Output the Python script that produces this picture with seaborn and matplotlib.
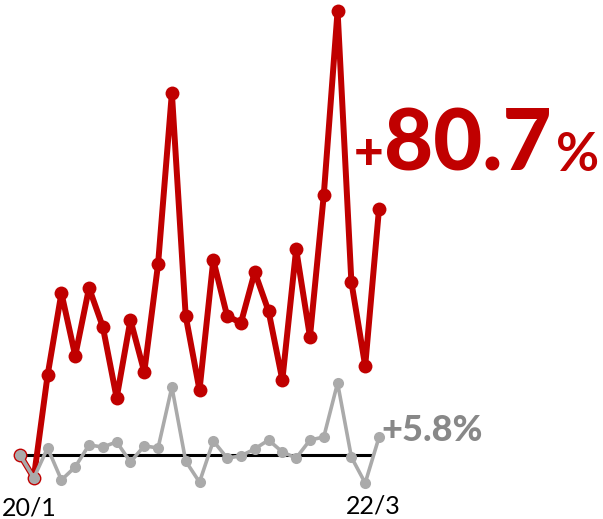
import matplotlib
matplotlib.use("Agg")
import matplotlib.pyplot as plt
import seaborn as sns
import numpy as np
import pandas as pd

# Cumulative change (%) versus the first period
region_change = [0, -7.5, 26.2, 53.1, 32.5, 54.8, 42.0, 18.7, 44.3, 27.2,
                 62.6, 118.7, 45.6, 21.3, 63.9, 45.6, 43.3, 60.0, 47.2, 24.6,
                 67.5, 38.7, 85.2, 145.6, 56.7, 29.2, 80.7]
national_change = [0, -7.5, 2.3, -8.2, -3.9, 3.3, 2.6, 4.3, -2.3, 3.0,
                   2.3, 22.3, -2.0, -8.9, 4.6, -1.0, -0.3, 2.0, 4.9, 1.0,
                   -1.0, 4.9, 5.9, 23.6, -0.7, -9.2, 5.8]
start_label = "20/1"
end_label = "22/3"

RED = "#c00000"
GRAY = "#aaaaaa"
LABEL_GRAY = "#888888"

sns.set_theme(style="white")
plt.rcParams["font.family"] = ["Lato", "DejaVu Sans"]

df = pd.DataFrame({
    "period": np.arange(len(region_change)),
    "region": region_change,
    "national": national_change,
})

fig = plt.figure(figsize=(6.03, 5.19), dpi=100)
ax = fig.add_axes([0, 0, 1, 1])

# zero reference line
ax.hlines(0, df["period"].iloc[0], df["period"].iloc[-1] - 0.4,
          color="black", lw=2.2, zorder=1)

sns.lineplot(data=df, x="period", y="region", ax=ax, color=RED, lw=4.3,
             marker="o", markersize=10, markeredgewidth=0, zorder=2)
sns.lineplot(data=df, x="period", y="national", ax=ax, color=GRAY, lw=2.6,
             marker="o", markersize=8, markeredgewidth=0, zorder=3)

px_per_period = (379 - 20) / 26
px_per_unit = 3.05
ax.set_xlim(-20 / px_per_period, (603 - 20) / px_per_period)
ax.set_ylim((455 - 519) / px_per_unit, 455 / px_per_unit)
ax.axis("off")

last = df["period"].iloc[-1]

# headline change for the region
ax.annotate("+", xy=(last, region_change[-1]), xytext=(-25, 40),
            textcoords="offset pixels", ha="left", va="baseline",
            fontsize=37, fontweight="black", color=RED)
ax.annotate(f"{region_change[-1]:.1f}", xy=(last, region_change[-1]),
            xytext=(5, 38), textcoords="offset pixels", ha="left",
            va="baseline", fontsize=61, fontweight="black", color=RED)
ax.annotate("%", xy=(last, region_change[-1]), xytext=(177, 38),
            textcoords="offset pixels", ha="left", va="baseline",
            fontsize=38, fontweight="bold", color=RED)

# national change
ax.annotate(f"+{national_change[-1]:.1f}%", xy=(last, national_change[-1]),
            xytext=(2, -4), textcoords="offset pixels", ha="left",
            va="baseline", fontsize=26, fontweight="black", color=LABEL_GRAY)

# period labels
ax.annotate(start_label, xy=(0, 0), xytext=(9, -61),
            textcoords="offset pixels", ha="center", va="baseline",
            fontsize=18, color="black")
ax.annotate(end_label, xy=(last, 0), xytext=(-5.5, -58),
            textcoords="offset pixels", ha="center", va="baseline",
            fontsize=18, color="black")

fig.savefig("out.png", dpi=100)
